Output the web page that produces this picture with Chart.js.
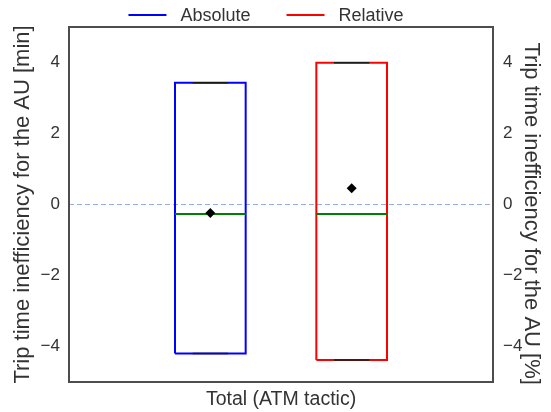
<!DOCTYPE html>
<html>
<head>
<meta charset="utf-8">
<script src="https://cdn.jsdelivr.net/npm/chart.js@4"></script>
<style>
  html, body { margin: 0; padding: 0; background: #fff; }
  #wrap { width: 551px; height: 412px; }
</style>
</head>
<body>
<div id="wrap"><canvas id="chart" width="551" height="412"></canvas></div>
<script>
// --- données ---
const categories = ['Absolute', 'Relative'];
const positions = [1, 2];
const q1 = [-4.20, -4.38];
const q3 = [3.43, 3.99];
const whiskerLow = [-4.20, -4.38];
const whiskerHigh = [3.43, 3.99];
const medians = [-0.27, -0.27];
const means = [-0.24, 0.46];
const yTicks = [-4, -2, 0, 2, 4];
const xTickPos = 1.5;
const xTickLabel = 'Total (ATM tactic)';
const boxWidth = 0.5;

const colors = ['#0000ff', '#ff0000'];
const axisIds = ['y', 'y2'];
const textColor = '#333333';
const FONT = "'Liberation Sans', Arial, sans-serif";

const minus = (v) => (v < 0 ? '\u2212' + Math.abs(v) : String(v));

// --- construction des datasets (boîtes, moustaches, médianes, moyennes) ---
const datasets = [];
categories.forEach((name, i) => {
  const p = positions[i], h = boxWidth / 2, c = boxWidth / 4;
  datasets.push({
    type: 'line', label: name, yAxisID: axisIds[i], order: 4,
    data: [
      { x: p - h, y: q1[i] }, { x: p + h, y: q1[i] },
      { x: p + h, y: q3[i] }, { x: p - h, y: q3[i] }, { x: p - h, y: q1[i] }
    ],
    borderColor: colors[i], borderWidth: 2, pointRadius: 0, fill: false, tension: 0
  });
  datasets.push({
    type: 'line', label: name + ' whiskers', yAxisID: axisIds[i], order: 3,
    data: [
      { x: p, y: q3[i] }, { x: p, y: whiskerHigh[i] }, { x: p, y: null },
      { x: p, y: q1[i] }, { x: p, y: whiskerLow[i] }, { x: p, y: null },
      { x: p - c, y: whiskerHigh[i] }, { x: p + c, y: whiskerHigh[i] }, { x: p, y: null },
      { x: p - c, y: whiskerLow[i] }, { x: p + c, y: whiskerLow[i] }
    ],
    borderColor: '#1a1a1a', borderWidth: 1.5, pointRadius: 0, spanGaps: false, fill: false
  });
  datasets.push({
    type: 'line', label: name + ' median', yAxisID: axisIds[i], order: 2,
    data: [{ x: p - h, y: medians[i] }, { x: p + h, y: medians[i] }],
    borderColor: '#008000', borderWidth: 2, pointRadius: 0, fill: false
  });
  datasets.push({
    type: 'scatter', label: name + ' mean', yAxisID: axisIds[i], order: 1,
    data: [{ x: p, y: means[i] }],
    pointStyle: 'rectRot', pointRadius: 5, backgroundColor: '#000', borderColor: '#000', borderWidth: 0
  });
});

// cadre autour de la zone de tracé
const framePlugin = {
  id: 'frame',
  afterDatasetsDraw(chart) {
    const { ctx, chartArea: a } = chart;
    ctx.save();
    ctx.strokeStyle = '#4d4d4d';
    ctx.lineWidth = 2;
    ctx.strokeRect(a.left, a.top, a.right - a.left, a.bottom - a.top);
    ctx.restore();
  }
};

// légende façon matplotlib (trait + texte), centrée en haut
const legendPlugin = {
  id: 'mplLegend',
  afterDraw(chart) {
    const ctx = chart.ctx;
    const lineLen = 38, textGap = 14, itemGap = 36, cy = 15, centerX = 266;
    ctx.save();
    ctx.font = `18px ${FONT}`;
    const widths = categories.map(t => ctx.measureText(t).width);
    const total = widths.reduce((s, w) => s + lineLen + textGap + w, 0) + itemGap * (categories.length - 1);
    let x = centerX - total / 2;
    categories.forEach((t, i) => {
      ctx.strokeStyle = colors[i];
      ctx.lineWidth = 2;
      ctx.beginPath();
      ctx.moveTo(x, cy);
      ctx.lineTo(x + lineLen, cy);
      ctx.stroke();
      ctx.fillStyle = textColor;
      ctx.textBaseline = 'middle';
      ctx.textAlign = 'left';
      ctx.fillText(t, x + lineLen + textGap, cy + 1);
      x += lineLen + textGap + widths[i] + itemGap;
    });
    ctx.restore();
  }
};

const yTitleFont = { family: FONT, size: 22 };
const tickFont = { family: FONT, size: 17 };

new Chart(document.getElementById('chart'), {
  type: 'line',
  data: { datasets },
  plugins: [framePlugin, legendPlugin],
  options: {
    responsive: false,
    animation: false,
    layout: { padding: { top: 27 } },
    plugins: {
      tooltip: { enabled: false },
      legend: { display: false }
    },
    scales: {
      x: {
        type: 'linear', min: 0, max: 3,
        afterBuildTicks: (s) => { s.ticks = [{ value: xTickPos }]; },
        afterFit: (s) => { s.height = 30; },
        ticks: { callback: () => xTickLabel, color: textColor, font: { family: FONT, size: 19.5 }, padding: 6, maxRotation: 0 },
        grid: { display: false, drawTicks: false },
        border: { display: false }
      },
      y: {
        position: 'left', min: -5, max: 5,
        afterBuildTicks: (s) => { s.ticks = yTicks.map(v => ({ value: v })); },
        afterFit: (s) => { s.width = 69; },
        ticks: { callback: minus, color: textColor, font: tickFont, padding: 9 },
        grid: {
          drawTicks: false, lineWidth: 1,
          color: (c) => (c.tick && c.tick.value === 0 ? '#98b0dc' : 'rgba(0,0,0,0)')
        },
        border: { display: false, dash: [5, 3] },
        title: {
          display: true, text: 'Trip time inefficiency for the AU [min]',
          color: textColor, font: yTitleFont, padding: { top: 10, bottom: 0 }
        }
      },
      y2: {
        position: 'right', min: -5, max: 5,
        afterBuildTicks: (s) => { s.ticks = yTicks.map(v => ({ value: v })); },
        afterFit: (s) => { s.width = 58; },
        ticks: { callback: minus, color: textColor, font: tickFont, padding: 10 },
        grid: { display: false, drawTicks: false },
        border: { display: false },
        title: {
          display: true, text: '   Trip time inefficiency for the AU [%]',
          color: textColor, font: yTitleFont, padding: { top: 7, bottom: 0 }
        }
      }
    }
  }
});
</script>
</body>
</html>
